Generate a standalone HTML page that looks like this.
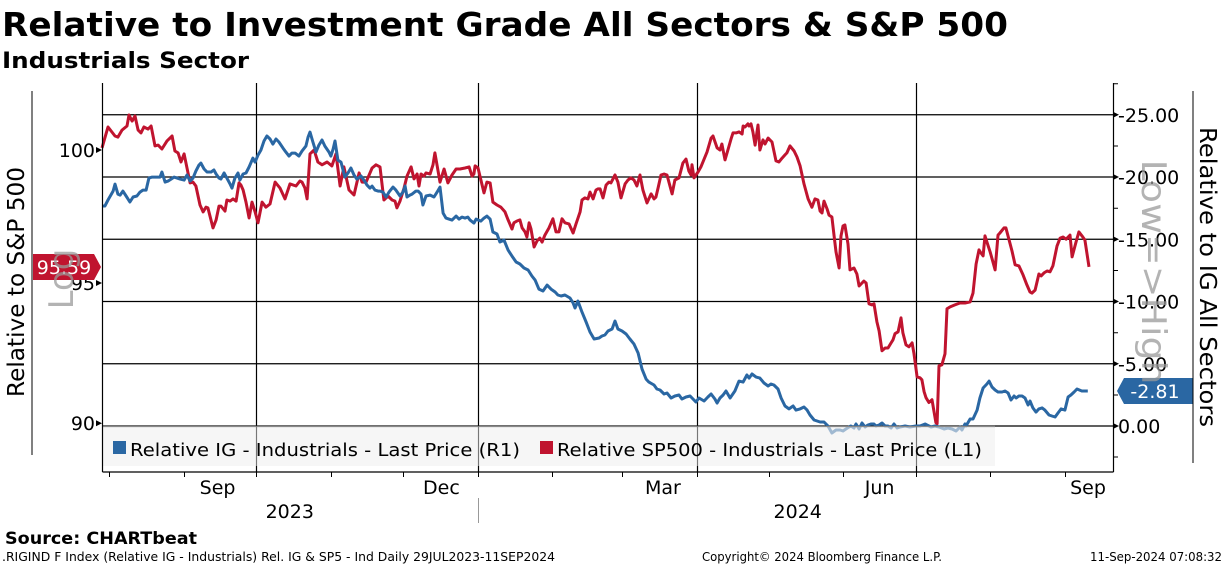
<!DOCTYPE html>
<html><head><meta charset="utf-8"><style>
html,body{margin:0;padding:0;background:#fff;}
svg{display:block;font-family:"DejaVu Sans","Liberation Sans",sans-serif;}
</style></head><body>
<svg id="chart" width="1224" height="566" viewBox="0 0 1224 566" xmlns="http://www.w3.org/2000/svg">
<text x="2" y="36" font-size="33" font-weight="bold" textLength="1006" lengthAdjust="spacingAndGlyphs">Relative to Investment Grade All Sectors &amp; S&amp;P 500</text>
<text x="2" y="68" font-size="22" font-weight="bold" textLength="247" lengthAdjust="spacingAndGlyphs">Industrials Sector</text>
<g id="grid"></g>
<g id="series"></g>
<g id="legend"></g>
<g id="axes"></g>
<text transform="translate(73,279) rotate(-90)" font-size="34" fill="#999" fill-opacity="0.75" text-anchor="middle">Log</text>
<text transform="translate(1142,272) rotate(90)" font-size="34" fill="#999" fill-opacity="0.75" text-anchor="middle" textLength="225" lengthAdjust="spacingAndGlyphs">Low=&gt;High</text>
<line x1="32" y1="91" x2="32" y2="455" stroke="#000"/>
<text transform="translate(24,282) rotate(-90)" font-size="23" text-anchor="middle" textLength="230" lengthAdjust="spacingAndGlyphs">Relative to S&amp;P 500</text>
<line x1="1193" y1="91" x2="1193" y2="463" stroke="#000"/>
<text transform="translate(1200,277) rotate(90)" font-size="23" text-anchor="middle" textLength="300" lengthAdjust="spacingAndGlyphs">Relative to IG All Sectors</text>
<text x="5" y="544" font-size="17" font-weight="bold" textLength="192" lengthAdjust="spacingAndGlyphs">Source: CHARTbeat</text>
<text x="2" y="561" font-size="12" textLength="553" lengthAdjust="spacingAndGlyphs">.RIGIND F Index (Relative IG - Industrials) Rel. IG &amp; SP5 - Ind  Daily 29JUL2023-11SEP2024</text>
<text x="702" y="561" font-size="12" textLength="240" lengthAdjust="spacingAndGlyphs">Copyright© 2024 Bloomberg Finance L.P.</text>
<text x="1222" y="561" font-size="12" text-anchor="end" textLength="132" lengthAdjust="spacingAndGlyphs">11-Sep-2024 07:08:32</text>
</svg>
<script>
const redDays=[0,2.5,5.4,6.6,8.3,10.4,11.2,12.5,13.7,15,16.2,17.4,19.1,20.4,22,23.3,24.9,27,29.1,30.3,31.6,32.8,34.1,35.3,36.6,37.8,39,40.7,42,43.2,44,46.1,47.4,48.6,49.4,51.1,51.9,53.2,54.4,55.7,56.9,57.7,58.6,59.8,61.1,62.3,63.6,64.8,66.5,68.1,69.8,71.9,73.9,76,78.1,80.6,82.2,83.1,84.3,85.2,86.4,88.1,89.7,91.4,93.5,95.5,97.2,98.9,100.5,102.6,104.7,106.8,108,109.7,112.2,113.8,115.5,117.1,118.8,120.5,121.7,122.5,123.8,125.5,126.7,128.4,129.6,130.9,131.7,132.5,133.8,134.6,136.3,137.5,138.3,140.4,142.1,143.7,145.4,147.1,148.7,150.8,152.5,153.7,154.5,
155,156.2,158.7,159.9,161.2,162.4,164.1,165.7,167.4,168.7,170.3,171.1,172.4,173.6,174.5,175.7,176.5,177.4,178.2,179.5,180.7,181.9,182.8,184,185.7,187.3,188.6,189.8,191.1,192.3,194,195.7,196.9,198.6,199.4,200.6,201.9,202.7,204,205.2,206,206.9,208.1,209.4,210.6,211.4,213.1,214.3,215.6,217.3,218.5,219.7,221,222.2,223.5,224.7,226.4,228.1,229.3,230.1,231,232.2,233.5,234.7,236.8,238,239.7,241.3,242.6,243.8,244.7,245.1,245.9,247.6,248.8,251.3,253,253.8,255.5,256.7,257.5,258.8,260,261.3,262.1,263.4,264.6,265.9,266.3,267.1,268.3,268.8,269.6,270.4,271.3,272.5,273.3,274.6,275.4,276.7,278.3,280,281.2,282.5,283.7,284.5,285.8,287.5,288.7,290,291.6,293.3,294.9,296.2,297.4,298.3,299.1,299.9,301.2,302,303.2,304.1,304.9,306.2,307,307.8,308.6,309.9,310.7,
312.4,313.6,314.5,315.7,316.5,317.4,318.6,319.9,320.7,321.9,322.8,324,325.3,326.5,327.8,328.6,329.4,330.7,331.9,332.7,334,335.2,336.5,337.3,338.6,339.8,340.6,341.5,342.3,343.5,344.8,346.4,346.9,347.7,348.9,350.2,351,352.3,354.3,356.4,358.5,360.6,361.8,363.1,364.3,365.1,366,366.8,368,368.9,370.1,371,372.2,373,374.7,375.5,376.8,378,379.3,380.9,382.6,384.2,385.5,386.3,387.6,389.2,390.1,391.3,392.6,393.8,395,396.7,398,399.2,400.5,402.1,403,404.6,405.8,407.1,408.3,410];
const redValues=[100.08,100.89,100.54,100.50,100.77,100.93,101.36,101.12,101.32,100.77,100.66,100.89,100.81,100.93,100.16,100.19,100.04,100.35,100.54,99.96,99.89,99.54,99.85,99.31,98.74,98.77,98.62,97.90,97.64,97.82,97.79,97.04,97.34,97.86,97.86,97.67,98.09,98.05,98.13,98.05,98.74,98.66,98.47,98.01,97.41,98.01,97.64,97.23,98.01,97.82,97.94,98.77,98.55,98.13,98.70,98.62,98.81,98.77,98.55,98.13,99.85,100.00,99.54,99.43,99.54,99.39,99.85,98.62,99.35,98.47,98.28,99.12,98.77,98.77,99.31,99.43,99.35,98.09,98.24,98.09,98.05,97.79,98.05,98.55,99.00,99.35,98.89,99.08,98.62,99.08,99.00,99.12,99.08,99.43,99.89,98.77,99.27,98.74,99.04,99.27,99.27,99.31,99.35,99.00,99.08,
99.39,99.31,98.36,98.77,98.74,98.01,97.90,97.82,97.64,97.34,97.00,97.23,97.30,97.34,97.04,96.89,96.70,97.23,97.00,96.33,96.55,96.66,96.51,96.77,97.04,97.38,96.89,96.89,97.38,97.23,97.19,96.85,97.19,97.64,98.09,98.17,98.13,98.39,98.13,98.47,98.51,98.51,98.17,98.66,98.77,98.74,99.04,98.77,98.17,98.70,98.85,98.93,98.85,98.62,99.04,98.47,97.98,98.32,98.13,98.20,98.55,99.04,99.08,99.04,98.32,98.85,98.93,99.50,99.65,99.19,99.04,99.43,98.93,99.16,99.35,99.92,100.46,100.54,100.08,100.00,100.23,99.62,100.00,100.42,100.66,100.66,100.70,100.62,100.93,100.89,101.01,100.93,101.01,100.70,100.19,100.97,100.00,100.39,100.23,100.46,100.31,99.58,99.54,99.69,99.81,99.89,100.16,99.96,99.73,99.39,98.70,98.13,97.82,98.13,98.09,97.67,97.60,98.05,97.75,97.52,97.45,96.74,96.15,95.55,96.74,97.11,97.15,96.44,95.48,
95.55,95.33,94.89,95.00,95.07,95.00,94.24,94.20,94.24,93.59,93.26,92.55,92.65,92.65,92.83,92.94,93.16,93.23,93.73,93.19,92.76,92.69,92.83,92.44,91.62,91.59,91.52,91.10,90.89,90.72,90.82,90.02,89.98,92.01,92.05,92.44,94.06,94.13,94.20,94.27,94.27,94.31,94.63,95.70,96.22,96.11,96.00,96.74,96.40,96.15,95.78,95.48,96.77,96.85,97.04,97.04,96.59,96.18,95.67,95.63,95.30,94.93,94.67,94.63,94.74,95.33,95.26,95.37,95.44,95.41,95.63,96.36,96.66,96.70,96.62,96.77,95.96,96.51,96.89,96.74,96.59,95.59];
const blueDays=[0,1.2,2.5,4.6,5.4,6.6,7.5,8.7,10,11.6,12.9,14.5,15.8,17,18.3,19.5,20.8,22,24.1,24.9,26.2,27.4,28.7,29.9,31.2,32.4,34.1,35.3,36.6,37.8,39,40.3,41.1,42.4,43.6,45.3,46.5,47.4,48.6,49.4,50.7,51.9,53.2,54,55.2,56.5,57.3,58.6,59.8,61.1,62.7,63.6,64.8,66,67.3,68.5,69.8,71,72.3,73.5,75.2,76.4,77.7,78.9,80.2,81.8,83.1,84.7,85.6,86.4,87.6,88.9,90.1,91.4,92.6,94.3,95.1,96,96.8,98,99.3,100.9,102.2,103.4,104.7,105.9,107.6,108.8,110.1,111.3,112.2,113.4,114.7,115.5,116.7,118,119.2,120.9,122.1,123.8,125,125.9,126.7,127.9,128.8,130.4,131.3,132.5,133.3,134.6,136.3,137.9,139.2,140.4,141.7,142.9,144.1,145.4,147.1,148.3,149.5,150.8,152,152.9,154.5,
155.4,157.4,158.7,159.9,161.2,162.4,164.1,165.3,167,168.7,170.3,172,173.6,175.3,177,178.6,179.9,181.5,183.2,184.9,186.5,188.2,189.4,190.7,192.3,194.4,195.7,196.5,197.7,199.4,201.1,202.7,204.4,206.5,207.7,208.9,210.2,211.9,213.1,214.3,216,217.7,219.3,221,222.7,224.3,226,227.2,229.3,230.5,231.8,233.5,234.7,236.4,238,239.7,240.9,242.6,244.3,245.5,246.7,248,250.1,251.7,253,254.6,255.5,256.7,258,259.2,260.9,262.9,264.6,266.3,267.9,268.8,270,271.7,273.3,275,276.7,277.9,279.1,280.8,282.1,283.7,285.4,287.1,288.3,290,291.6,292.9,294.1,295.8,298.3,299.9,301.6,303.2,304.9,306.6,
307.8,309,310.3,311.1,312.4,313.2,314.5,315.7,317,318.2,319.4,320.7,321.5,322.8,324,325.3,326.5,327.8,329,330.3,331.5,333.6,335.6,338.1,339.8,341.9,342.7,344.4,346,347.7,349.8,351.4,353.1,354.8,356.4,357.2,358.5,358.9,360.6,361.8,363.5,364.7,366,367.6,368.5,369.7,371,372.2,373.9,375.1,376.4,377.6,378.9,379.7,380.9,382.2,383.4,384.7,385.5,386.7,388,389.2,390.5,391.7,393.4,394.6,395.9,397.1,398.4,400,401.3,402.5,403.8,405,407,409.5];
const blueValues=[-17.67,-17.67,-18.15,-18.87,-19.43,-18.63,-18.55,-18.87,-18.47,-17.99,-18.39,-18.47,-18.79,-18.95,-18.95,-19.91,-19.99,-19.99,-19.99,-20.40,-19.59,-19.67,-19.83,-19.99,-19.91,-19.83,-19.75,-20.16,-19.67,-19.91,-20.48,-20.96,-21.12,-20.64,-20.40,-20.40,-20.56,-20.24,-19.91,-19.83,-20.32,-19.91,-19.43,-19.11,-19.91,-20.32,-19.75,-20.24,-20.32,-20.80,-21.52,-21.20,-21.76,-22.16,-22.89,-23.29,-23.05,-22.64,-23.05,-22.81,-22.32,-22.00,-21.68,-21.92,-21.92,-21.68,-22.08,-22.48,-23.21,-23.61,-22.81,-22.00,-22.56,-22.97,-22.48,-22.00,-21.68,-22.24,-22.89,-21.36,-21.20,-19.99,-20.32,-20.72,-20.16,-19.83,-20.08,-19.75,-19.35,-19.11,-19.27,-18.95,-18.87,-18.87,-18.79,-18.39,-18.79,-19.19,-18.95,-18.47,-18.79,-19.27,-18.39,-18.55,-18.63,-18.87,-18.87,-18.63,-17.75,-18.47,-18.55,-18.39,-18.79,-19.19,-17.10,-16.70,-16.62,-16.54,-16.86,-16.62,-16.78,-16.70,-16.78,-16.54,-16.30,
-16.62,-16.46,-16.70,-16.86,-16.62,-15.58,-15.42,-14.78,-14.94,-14.13,-13.65,-13.17,-13.01,-12.69,-12.53,-12.05,-11.72,-11.00,-10.84,-11.32,-11.00,-10.76,-10.52,-10.44,-10.52,-10.28,-9.88,-9.48,-10.04,-9.15,-8.35,-7.55,-6.99,-7.07,-7.23,-7.31,-7.63,-7.79,-8.43,-7.79,-7.63,-7.39,-6.99,-6.58,-5.86,-4.58,-3.77,-3.53,-3.29,-2.97,-2.89,-2.57,-2.65,-2.25,-2.41,-2.49,-2.17,-2.33,-2.41,-2.17,-1.93,-2.25,-2.01,-2.33,-2.57,-2.17,-1.85,-2.25,-2.49,-2.81,-2.25,-2.81,-3.61,-3.53,-4.10,-3.85,-4.18,-3.93,-3.85,-3.45,-3.21,-3.37,-3.29,-2.97,-2.25,-1.61,-1.37,-1.61,-1.28,-1.37,-1.53,-1.28,-0.88,-0.48,-0.32,-0.32,0,0.56,0.32,0.32,
0.40,0.24,0.08,0,0.16,-0.16,0.24,-0.24,0.08,-0.08,-0.16,-0.16,0,-0.08,-0.24,0,0,0.16,-0.16,0.16,0.08,0,0.08,0,0,-0.16,-0.08,0.08,0,0.08,0.24,0.16,0.24,0.40,0.08,0.32,-0.16,0,-0.56,-0.56,-1.28,-2.25,-3.05,-3.37,-3.61,-3.13,-2.89,-2.73,-2.73,-2.81,-2.65,-2.09,-2.41,-2.25,-2.41,-2.41,-2.25,-1.69,-2.01,-1.45,-1.12,-1.37,-1.45,-1.28,-0.88,-0.80,-0.72,-1.04,-1.37,-1.28,-2.33,-2.49,-2.73,-2.97,-2.81,-2.81];
const rightTicks=[-25,-20,-15,-10,-5,0];
const rightTickLabels=["-25.00","-20.00","-15.00","-10.00","-5.00","0.00"];
const leftTicks=[100,95,90];
const leftTickLabels=["100","95","90"];
const monthStartDays=[3,34,64,95,125,156,187,216,247,277,308,338,369,400];
const quarterDays=[64,156,247,338];
const monthLabels=["Sep","Dec","Mar","Jun","Sep"];
const monthLabelDays=[48,141,233,323,410];
const yearLabels=["2023","2024"];
const yearLabelDays=[78,289];
const yearSplitDay=156;
const lastRed=95.59, lastBlue=-2.81;

const NS="http://www.w3.org/2000/svg";
const X0=102,X1=1113,DAYMAX=410,XEND=1089,YT=83,YB=472;
const xs=d=>X0+d*(XEND-X0)/DAYMAX;
const yR=v=>426+v*12.45;
const yL=v=>150+2593*Math.log(100/v);
function mk(parent,tag,attrs){const e=document.createElementNS(NS,tag);for(const k in attrs)e.setAttribute(k,attrs[k]);parent.appendChild(e);return e;}
const grid=document.getElementById('grid'),axes=document.getElementById('axes'),series=document.getElementById('series'),legend=document.getElementById('legend');

rightTicks.forEach((t,i)=>{
  const y=yR(t);
  const g=mk(grid,'line',{x1:X0,x2:X1,y1:y,y2:y,stroke:'#000','stroke-width':1.2});
  
  
  const a=mk(axes,'path',{d:`M${X1} ${y-3}L${X1+6} ${y}L${X1} ${y+3}Z`,fill:'#000'});
  
  
  const tx=mk(axes,'text',{x:X1+5,y:y+7,'font-size':19});
  tx.textContent=rightTickLabels[i];
  
  
  const m=mk(axes,'line',{x1:X1,x2:X1+5,y1:y-31,y2:y-31,stroke:'#000'});
  
  
});
{const m=mk(axes,'line',{x1:X1,x2:X1+5,y1:457,y2:457,stroke:'#000'});

}
quarterDays.forEach(d=>{
  const x=Math.round(xs(d))+0.5;
  const g=mk(grid,'line',{x1:x,x2:x,y1:YT,y2:YB,stroke:'#000','stroke-width':1.2});
  
  
});
leftTicks.forEach((t,i)=>{
  const y=yL(t);
  const a=mk(axes,'path',{d:`M${X0} ${y}L${X0-6} ${y-3}L${X0-6} ${y+3}Z`,fill:'#000'});
  
  
  const tx=mk(axes,'text',{x:X0-7,y:y+7,'font-size':19,'text-anchor':'end'});
  tx.textContent=leftTickLabels[i];
  
  
});
function line(days,vals,sc,color,name){
  const d=days.map((dd,i)=>(i?'L':'M')+xs(dd).toFixed(1)+' '+sc(vals[i]).toFixed(1)).join('');
  const p=mk(series,'path',{d:d,fill:'none',stroke:color,'stroke-width':3,'stroke-linejoin':'round'});
  
  
}
line(redDays,redValues,yL,'#c0142f','sp500-relative-line');
line(blueDays,blueValues,yR,'#2a67a3','ig-relative-line');

// legend
const lb=mk(legend,'rect',{x:X0+1,y:426,width:892,height:40,fill:'#f0f0f0','fill-opacity':0.6});


const lt=mk(legend,'line',{x1:X0,x2:995,y1:426.5,y2:426.5,stroke:'#888','stroke-width':1.2});


quarterDays.forEach(d=>{const x=Math.round(xs(d))+0.5;if(x<995){const g=mk(legend,'line',{x1:x,x2:x,y1:426,y2:466,stroke:'#777'});

}});
const e1=mk(legend,'rect',{x:113,y:441,width:13,height:13,fill:'#2a67a3'});


const t1=mk(legend,'text',{x:130,y:456,'font-size':18,textLength:390,lengthAdjust:'spacingAndGlyphs'});
t1.textContent='Relative IG - Industrials - Last Price (R1)';


const e2=mk(legend,'rect',{x:540,y:441,width:13,height:13,fill:'#c0142f'});


const t2=mk(legend,'text',{x:557,y:456,'font-size':18,textLength:425,lengthAdjust:'spacingAndGlyphs'});
t2.textContent='Relative SP500 - Industrials - Last Price (L1)';



// frame
[[X0,YT,X0,YB],[X1,YT,X1,YB],[X0,YB,X1,YB]].forEach(c=>{const l=mk(axes,'line',{x1:c[0]+0.5,y1:c[1],x2:c[2]+0.5,y2:c[3],stroke:'#000','stroke-width':1.2});

});
monthStartDays.forEach(d=>{const x=Math.round(xs(d))+0.5;const t=mk(axes,'line',{x1:x,x2:x,y1:YB,y2:YB+5,stroke:'#000'});

});
monthLabels.forEach((m,i)=>{let x=xs(monthLabelDays[i]);if(x>1088)x=1088;const t=mk(axes,'text',{x:x,y:494,'font-size':19,'text-anchor':'middle'});t.textContent=m;

});
yearLabels.forEach((m,i)=>{const t=mk(axes,'text',{x:xs(yearLabelDays[i]),y:518,'font-size':19,'text-anchor':'middle'});t.textContent=m;

});
{const x=Math.round(xs(yearSplitDay))+0.5;const s=mk(axes,'line',{x1:x,x2:x,y1:498,y2:523,stroke:'#999'});

}

// last value tags
{const y=yL(lastRed);const p=mk(axes,'path',{d:`M33 ${y-13}H94L101 ${y}L94 ${y+13}H33Z`,fill:'#c0142f'});


const t=mk(axes,'text',{x:64,y:y+7,'font-size':19,fill:'#fff','text-anchor':'middle'});t.textContent=lastRed.toFixed(2);

}
{const y=yR(lastBlue);const p=mk(axes,'path',{d:`M1117 ${y}L1124 ${y-13}H1193V${y+13}H1124Z`,fill:'#2a67a3'});


const t=mk(axes,'text',{x:1155,y:y+7,'font-size':19,fill:'#fff','text-anchor':'middle'});t.textContent=lastBlue.toFixed(2);

}
</script>
</body></html>
